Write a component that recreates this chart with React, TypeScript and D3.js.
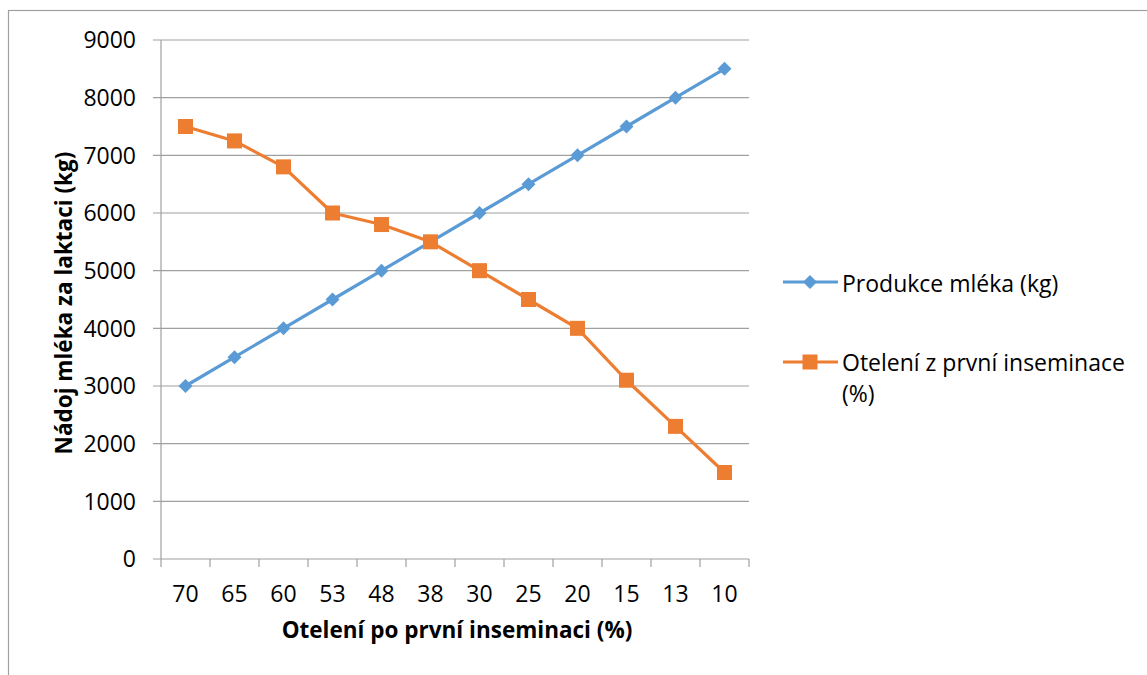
import * as d3 from 'd3';

const categories = ['70', '65', '60', '53', '48', '38', '30', '25', '20', '15', '13', '10'];
const milk = [3000, 3500, 4000, 4500, 5000, 5500, 6000, 6500, 7000, 7500, 8000, 8500];
const calving = [7500, 7250, 6800, 6000, 5800, 5500, 5000, 4500, 4000, 3100, 2300, 1500];
const yTicks = [0, 1000, 2000, 3000, 4000, 5000, 6000, 7000, 8000, 9000];

const W = 1147;
const H = 675;
const blue = '#5B9BD5';
const orange = '#ED7D31';
const grid = '#A0A0A0';
const font = '"Open Sans", sans-serif';

export default function App() {
  const x = d3.scaleBand<string>().domain(categories).range([161, 749]);
  const y = d3.scaleLinear().domain([0, 9000]).range([559, 40]);
  const cx = (c: string) => (x(c) as number) + x.bandwidth() / 2;

  const line = d3
    .line<number>()
    .x((_, i) => cx(categories[i]))
    .y((d) => y(d));

  const diamond = (px: number, py: number, r = 7) =>
    `M${px},${py - r}L${px + r},${py}L${px},${py + r}L${px - r},${py}Z`;

  return (
    <svg
      width={W}
      height={H}
      style={{ position: 'absolute', left: 0, top: 0, background: '#fff' }}
      fontFamily={font}
    >
      <rect x={8.5} y={10.5} width={W + 20} height={H + 20} fill="#fff" stroke={grid} strokeWidth={1.2} />

      {/* gridlines + y labels */}
      {yTicks.map((t) => (
        <g key={t}>
          <line x1={153} x2={749} y1={y(t)} y2={y(t)} stroke={grid} strokeWidth={1.2} />
          <text x={136} y={y(t)} dy="0.36em" textAnchor="end" fontSize={23} fill="#000">
            {t}
          </text>
        </g>
      ))}
      <line x1={161} x2={161} y1={40} y2={559} stroke={grid} strokeWidth={1.2} />

      {/* x ticks */}
      {categories.map((c, i) => (
        <g key={c + i}>
          <line x1={x(c) as number} x2={x(c) as number} y1={559} y2={567} stroke={grid} strokeWidth={1.2} />
          <text x={cx(c)} y={602} textAnchor="middle" fontSize={23} fill="#000">
            {c}
          </text>
        </g>
      ))}
      <line x1={749} x2={749} y1={559} y2={567} stroke={grid} strokeWidth={1.2} />

      <text x={457} y={638} textAnchor="middle" fontSize={22.5} fontWeight="bold" fill="#000">
        Otelení po první inseminaci (%)
      </text>
      <text
        transform="translate(72,303) rotate(-90)"
        textAnchor="middle"
        fontSize={22.5}
        fontWeight="bold"
        fill="#000"
      >
        Nádoj mléka za laktaci (kg)
      </text>

      {/* series */}
      <path d={line(milk) ?? ''} fill="none" stroke={blue} strokeWidth={3.2} strokeLinejoin="round" />
      {milk.map((v, i) => (
        <path key={'m' + i} d={diamond(cx(categories[i]), y(v))} fill={blue} />
      ))}
      <path d={line(calving) ?? ''} fill="none" stroke={orange} strokeWidth={3.2} strokeLinejoin="round" />
      {calving.map((v, i) => (
        <rect key={'c' + i} x={cx(categories[i]) - 7.5} y={y(v) - 7.5} width={15} height={15} fill={orange} />
      ))}

      {/* legend */}
      <line x1={783} x2={838} y1={282} y2={282} stroke={blue} strokeWidth={3.2} />
      <path d={diamond(810, 282)} fill={blue} />
      <text x={842} y={292} fontSize={23} fill="#000">
        Produkce mléka (kg)
      </text>
      <line x1={783} x2={838} y1={362} y2={362} stroke={orange} strokeWidth={3.2} />
      <rect x={802.5} y={354.5} width={15} height={15} fill={orange} />
      <text x={842} y={371} fontSize={23} fill="#000">
        Otelení z první inseminace
      </text>
      <text x={842} y={402} fontSize={23} fill="#000">
        (%)
      </text>
    </svg>
  );
}
